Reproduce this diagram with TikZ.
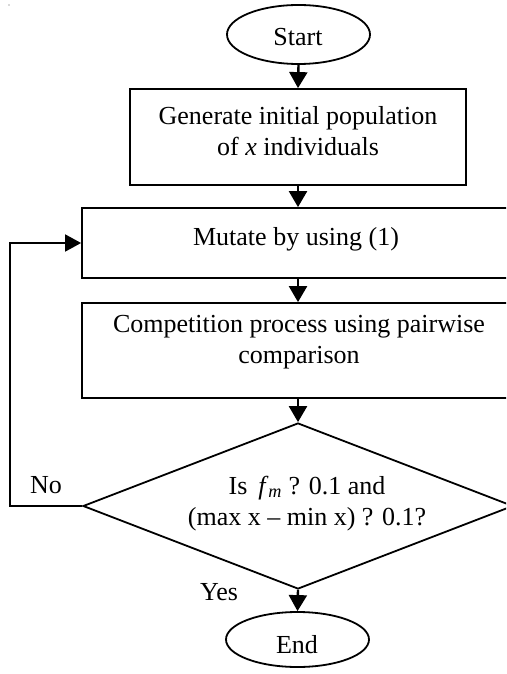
\documentclass[tikz,border=0pt]{standalone}
\usepackage{fontspec}
\setmainfont{Liberation Serif}
\usetikzlibrary{shapes.geometric,arrows.meta}
\begin{document}
\begin{tikzpicture}[x=1pt,y=-1pt,
  shapeline/.style={draw=black,line width=1.8pt,inner sep=0pt},
  procbox/.style={shapeline,rectangle},
  termin/.style={shapeline,ellipse,minimum width=143pt},
  decis/.style={shapeline,diamond,minimum width=430pt,minimum height=166pt},
  lbl/.style={font=\fontsize{26}{31}\selectfont,inner sep=0pt,anchor=base,align=center},
  flow/.style={line width=2.4pt,-{Triangle[length=16pt,width=18pt]}},
  back/.style={line width=1.8pt,-{Triangle[length=16pt,width=17pt]}},
]
\clip (0,0) rectangle (506,674);
\fill[gray!60] (9,5) circle (0.8);
% shapes
\node[termin,minimum height=59pt] (start) at (298.5,34.5) {};
\node[procbox,minimum width=336pt,minimum height=96pt] (gen) at (298,137) {};
\node[procbox,minimum width=432pt,minimum height=70pt] (mut) at (298,243) {};
\node[procbox,minimum width=432pt,minimum height=95pt] (comp) at (298,350.5) {};
\node[decis] (dec) at (298,506) {};
\node[termin,minimum height=55pt] (end) at (297.5,639.5) {};
% texts (anchor base = baseline of last line)
\node[lbl] (tstart) at (298,46) {Start};
\node[lbl] (tgen) at (298,155) {Generate initial population\\of \textit{x} individuals};
\node[lbl] (tmut) at (296,245) {Mutate by using (1)};
\node[lbl] (tcomp) at (299,363) {Competition process using pairwise\\comparison};
\node[lbl] (tdec) at (307,525) {Is \,\textit{f}\textsubscript{\textit{m}} ? 0.1 and\\(max x – min x) ? 0.1?};
\node[lbl] (tend) at (297,653) {End};
\node[lbl] (tno) at (46,493) {No};
\node[lbl] (tyes) at (219,600) {Yes};
% connectors
\coordinate (corner) at (10,506);
\draw[flow] (start.south) -- (gen.north);
\draw[flow] (gen.south) -- (mut.north);
\draw[flow] (mut.south) -- (comp.north);
\draw[flow] (comp.south) -- (dec.north);
\draw[flow] (dec.south) -- (end.north);
\draw[back] (dec.west) -- (corner) |- (mut.west);
\end{tikzpicture}
\end{document}
